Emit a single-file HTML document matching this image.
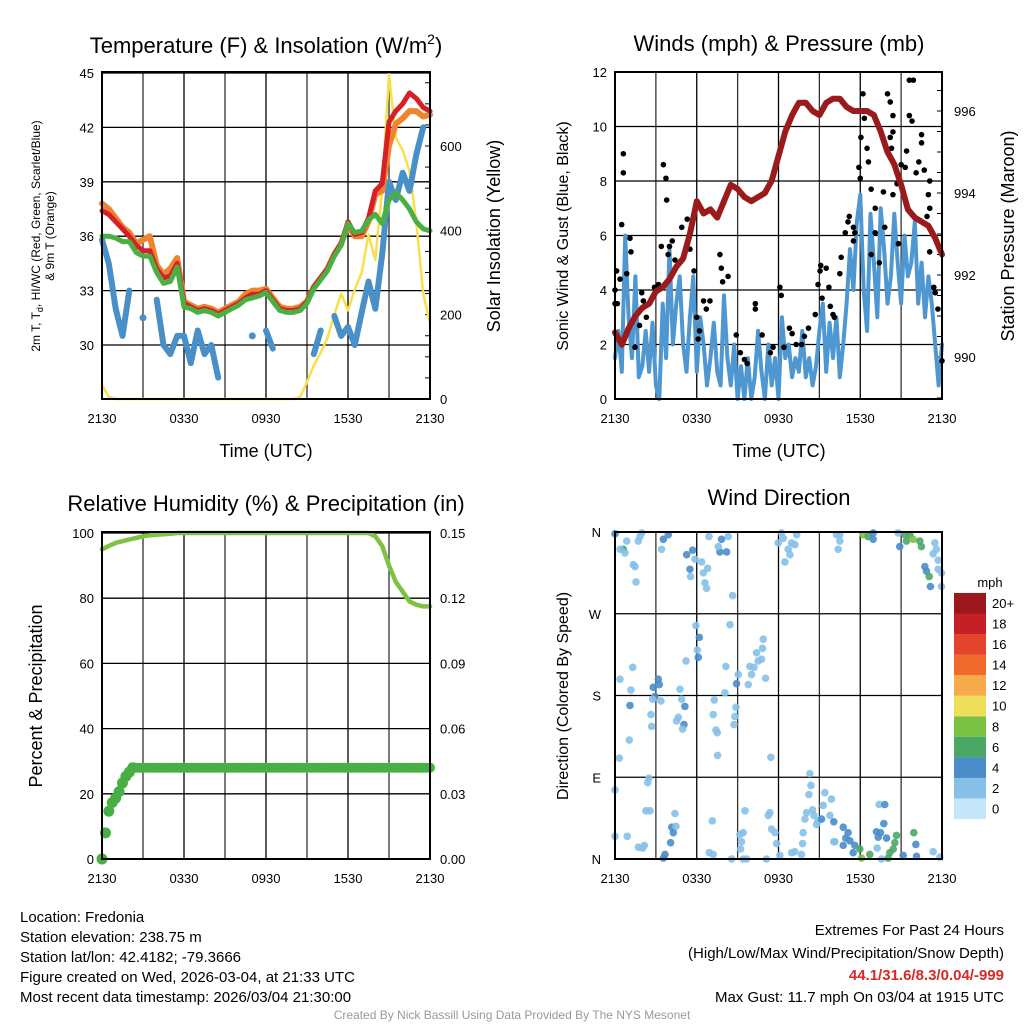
<!DOCTYPE html>
<html><head><meta charset="utf-8"><style>
body{margin:0;background:#fff}
svg{display:block;font-family:"Liberation Sans",sans-serif}
</style></head><body>
<svg id="c" width="1024" height="1024" viewBox="0 0 1024 1024">
<g font-size="22" text-anchor="middle" fill="#000">
<text x="266" y="53">Temperature (F) &amp; Insolation (W/m<tspan font-size="14" dy="-9">2</tspan><tspan dy="9">)</tspan></text>
<text x="779" y="51">Winds (mph) &amp; Pressure (mb)</text>
<text x="266" y="511">Relative Humidity (%) &amp; Precipitation (in)</text>
<text x="779" y="505">Wind Direction</text>
</g>
<g font-size="18" text-anchor="middle">
<text x="266" y="457">Time (UTC)</text>
<text x="779" y="457">Time (UTC)</text>
<text transform="translate(500,236) rotate(-90)">Solar Insolation (Yellow)</text>
<text transform="translate(568,236) rotate(-90)" font-size="16">Sonic Wind &amp; Gust (Blue, Black)</text>
<text transform="translate(1014,236) rotate(-90)">Station Pressure (Maroon)</text>
<text transform="translate(42,696) rotate(-90)">Percent &amp; Precipitation</text>
<text transform="translate(568,696) rotate(-90)" font-size="16">Direction (Colored By Speed)</text>
</g>
<g font-size="12" text-anchor="middle">
<text transform="translate(40,236) rotate(-90)">2m T, T<tspan font-size="9" dy="3">d</tspan><tspan dy="-3">, HI/WC (Red, Green, Scarlet/Blue)</tspan></text>
<text transform="translate(54,236) rotate(-90)">&amp; 9m T (Orange)</text>
</g>
<g font-size="15" fill="#000">
<text x="20" y="922">Location: Fredonia</text>
<text x="20" y="942">Station elevation: 238.75 m</text>
<text x="20" y="962">Station lat/lon: 42.4182; -79.3666</text>
<text x="20" y="982">Figure created on Wed, 2026-03-04, at 21:33 UTC</text>
<text x="20" y="1002">Most recent data timestamp: 2026/03/04 21:30:00</text>
<g text-anchor="end">
<text x="1004" y="935">Extremes For Past 24 Hours</text>
<text x="1004" y="958">(High/Low/Max Wind/Precipitation/Snow Depth)</text>
<text x="1004" y="980" fill="#d42a2a" font-weight="bold">44.1/31.6/8.3/0.04/-999</text>
<text x="1004" y="1002">Max Gust: 11.7 mph On 03/04 at 1915 UTC</text>
</g>
</g>
<text x="512" y="1019" font-size="12" fill="#999" text-anchor="middle">Created By Nick Bassill Using Data Provided By The NYS Mesonet</text>
</svg>
<script>
// ---- data ----
const timeLabels = ["2130","0330","0930","1530","2130"];
const tempRed = [37.4,37.2,36.8,36.4,36.0,35.5,35.2,35.2,34.2,33.7,33.8,34.5,32.3,32.1,31.9,32.0,31.9,31.7,31.9,32.1,32.3,32.6,32.8,32.8,33.0,32.5,32.0,31.9,31.9,32.0,32.4,33.2,33.7,34.2,35.0,35.6,36.8,36.1,36.2,37.0,38.5,38.9,42.3,42.9,43.3,43.9,43.6,43.1,42.9];
const temp9m = [37.8,37.5,37.0,36.5,36.2,35.6,35.8,36.0,34.4,33.9,34.2,34.8,32.4,32.2,32.0,32.1,32.0,31.8,32.0,32.2,32.4,32.8,33.0,33.0,33.1,32.6,32.1,32.0,32.0,32.1,32.4,33.2,33.7,34.2,35.0,35.6,36.6,36.0,36.0,36.8,38.3,38.5,41.0,42.2,42.5,42.9,42.9,42.6,42.7];
const windChill = [36.0,36.0,35.9,35.7,35.7,35.1,34.9,34.9,34.0,33.4,33.5,34.3,32.1,32.0,31.8,31.9,31.8,31.6,31.8,32.0,32.2,32.5,32.6,32.7,32.9,32.4,31.9,31.8,31.8,31.9,32.3,33.1,33.6,34.1,34.9,35.5,36.7,36.2,36.3,36.9,37.2,36.7,38.0,38.4,38.0,37.5,36.8,36.4,36.3];
const dewPoint = [35.8,34.5,32.0,30.5,33.0,null,31.5,null,32.5,30.0,29.5,30.5,30.5,29.0,30.8,29.5,30.0,28.2,null,null,null,null,30.5,null,30.8,29.8,null,null,null,null,null,29.5,30.8,null,31.6,30.5,31.0,30.0,31.8,33.5,32.0,35.0,39.0,38.0,39.5,38.5,40.5,42.0,null];
const solar = [33,5,0,0,0,0,0,0,0,0,0,0,0,0,0,0,0,0,0,0,0,0,0,0,0,0,0,0,0,5,40,80,110,145,200,250,210,260,300,390,330,500,770,620,590,540,420,250,180];
const windSpeed = [1.5,2.5,1.0,6.0,3.0,1.5,4.5,0.8,1.2,2.5,1.0,2.8,0.5,0.0,3.5,1.5,5.5,2.0,3.5,4.5,2.0,1.0,3.0,4.5,1.0,3.0,2.0,0.5,1.5,2.8,1.0,0.5,3.8,1.5,0.5,2.0,0.0,1.2,0.0,1.5,0.0,0.8,2.5,1.0,0.0,2.0,0.5,1.5,0.0,3.0,1.5,2.0,0.8,1.5,1.0,2.5,0.8,1.5,0.5,1.2,2.5,3.5,1.0,2.8,1.5,3.0,0.8,2.0,3.5,5.5,4.0,6.5,7.5,4.0,2.5,6.8,5.0,3.0,7.0,5.5,3.5,4.5,6.8,5.0,3.5,6.0,4.5,5.0,6.5,3.5,5.0,3.0,4.5,3.5,2.0,0.5,2.0];
const gustHours = [0.61,0.61,0.49,1.1,1.17,0.12,0,0,0.17,0.37,0.86,1.96,2.08,2.3,1.8,1.47,2.9,3.2,3.4,3.55,3.74,3.79,3.9,4.0,4.2,4.4,4.9,5.3,5.5,5.8,6.0,6.2,6.5,6.7,6.97,6.1,7.7,7.8,7.9,8.3,8.9,9.2,9.5,9.7,10.3,10.3,10.8,11.6,11.4,12.1,12.2,12.4,12.8,13.0,13.3,13.7,13.9,14.2,14.7,14.9,15.1,15.05,15.2,15.5,15.7,15.8,16.0,16.1,16.5,16.6,16.9,17.1,17.2,17.5,17.6,17.5,17.9,18.0,18.05,18.2,18.3,18.5,18.6,18.8,19.1,18.8,19.1,19.4,19.7,19.8,20.0,20.2,20.4,20.4,20.2,20.3,20.4,20.7,20.8,21.0,21.3,21.4,21.6,21.9,21.6,21.8,22.1,22.3,22.5,22.5,22.7,23.0,23.1,23.1,22.9,23.1,23.4,23.5,23.7,24.0];
const gustSpeeds = [9.0,8.3,6.4,5.9,5.4,4.7,4.0,3.5,3.5,4.4,4.6,3.9,3.6,3.0,2.7,1.9,4.1,4.2,5.6,8.6,8.1,7.3,5.3,5.6,5.8,5.1,6.3,6.6,5.5,4.7,3.0,2.5,3.6,3.3,3.6,2.2,5.3,4.8,4.3,4.5,2.35,1.7,1.45,1.3,3.5,3.3,2.35,1.9,1.7,4.1,3.8,1.9,2.6,2.4,2.0,2.0,2.3,2.6,3.1,4.2,4.9,4.7,3.7,4.8,4.1,3.4,3.1,3.0,4.6,5.2,6.1,6.5,6.7,6.3,6.1,5.8,8.5,8.1,9.6,11.2,10.3,9.2,8.7,7.7,7.0,5.3,6.1,5.0,7.6,6.3,11.2,10.9,10.4,9.8,9.6,9.2,7.5,7.9,5.7,8.6,8.5,9.1,11.7,11.7,10.4,10.2,8.3,8.7,9.4,9.7,8.4,7.5,8.0,7.0,6.7,5.4,4.1,3.9,3.3,1.4];
const pressure = [990.6,990.3,990.7,991.0,991.2,991.3,991.6,991.7,991.9,992.2,992.4,993.0,993.8,993.5,993.6,993.4,993.8,994.2,994.1,993.9,993.8,993.9,994.0,994.3,994.9,995.5,995.9,996.2,996.2,996.0,995.9,996.2,996.3,996.3,996.1,996.0,996.0,996.0,995.9,995.5,995.0,994.7,994.2,993.6,993.4,993.3,993.2,992.9,992.5];
const humidity = [95,96,97,97.5,98,98.5,99,99.3,99.5,99.6,99.8,100,100,100,100,100,100,100,100,100,100,100,100,100,100,100,100,100,100,100,100,100,100,100,100,100,100,100,100,100,99,96,90,85,82,79,78,77.5,77.5];
const precip = [0,0.012,0.022,0.026,0.028,0.031,0.035,0.038,0.040,0.042,0.042,0.042,0.042,0.042,0.042,0.042,0.042,0.042,0.042,0.042,0.042,0.042,0.042,0.042,0.042,0.042,0.042,0.042,0.042,0.042,0.042,0.042,0.042,0.042,0.042,0.042,0.042,0.042,0.042,0.042,0.042,0.042,0.042,0.042,0.042,0.042,0.042,0.042,0.042,0.042,0.042,0.042,0.042,0.042,0.042,0.042,0.042,0.042,0.042,0.042,0.042,0.042,0.042,0.042,0.042,0.042,0.042,0.042,0.042,0.042,0.042,0.042,0.042,0.042,0.042,0.042,0.042,0.042,0.042,0.042,0.042,0.042,0.042,0.042,0.042,0.042,0.042,0.042,0.042,0.042,0.042,0.042,0.042,0.042,0.042,0.042,0.042];
const dirObs = [[0,358,3.5],[0.86,350,2],[0.61,341,6],[0.37,341,2],[0.73,337,2],[1.83,355,2],[1.96,359,2],[1.71,350,2],[1.34,324,1],[1.47,322,1],[1.54,305,1],[3.55,352,3.5],[3.91,357,3.5],[3.42,341,2],[5.26,335,3.5],[5.7,340,3.5],[5.5,319,3.5],[5.87,330,2],[6.36,327,2],[6.48,315,2],[6.8,320,2],[5.55,311,2],[6.6,304,2],[6.72,298,2],[6.9,355,1],[7.82,352,3.5],[8.31,355,2],[7.7,338,3.5],[8.19,338,3.5],[7.58,344,2],[8.63,290,1],[12.22,359,2],[12.35,353,2],[13.33,357,2],[12.96,348,2],[13.2,346,2],[11.98,348,1],[12.71,341,2],[12.84,335,2],[12.47,327,1],[16.5,357,2],[16.26,357,2],[16.5,350,2],[16.38,341,2],[18.22,357,8],[18.58,355,6],[18.95,359,3.5],[18.95,352,3.5],[20.78,359,2],[21.27,357,6],[21.64,357,6],[21.39,350,6],[21.88,352,8],[22.37,350,6],[22.49,344,6],[20.9,344,3.5],[23.47,348,2],[23.59,341,2],[23.35,336,2],[23.72,329,2],[22.74,322,3.5],[22.86,317,3.5],[23.06,311,6],[23.15,300,3.5],[23.72,319,2],[23.96,315,2],[23.96,300,1],
[5.94,257,1],[8.44,258,1],[6.19,244,3.5],[6.04,230,2],[6.11,222,3.5],[5.21,218,1],[1.3,211,1],[0.37,198,1],[3.18,198,3.5],[3.25,192,3.5],[2.81,189,3.5],[2.93,179,3.5],[2.76,176,1],[3.37,174,1],[1.17,186,2],[1.1,169,3.5],[4.77,187,2],[4.89,176,2],[5.13,168,3.5],[4.65,156,1],[4.52,152,1],[5.06,148,3.5],[4.96,143,2],[2.64,159,1],[2.69,146,1],[1.05,131,1],[0.32,111,1],[7.29,175,2],[7.21,159,1],[7.41,142,1],[7.51,139,1],[7.53,114,1],[8.07,183,1],[8.14,212,1],[9.05,203,1],[8.92,193,3.5],[8.88,167,2],[8.8,157,1],[8.73,148,1],[9.78,192,1],[9.9,212,1],[10.02,203,1],[10.39,227,2],[10.51,218,2],[10.76,220,2],[10.88,242,1],[10.83,232,1],[10.2,211,2],[11.05,199,1],[11.44,112,1],
[14.3,94,1],[14.38,81,1],[14.23,71,2],[15.4,73,2],[15.89,66,2],[15.28,59,2],[15.77,48,2],[14.5,54,1],[14.06,51,2],[13.94,44,1],[14.6,48,2],[14.91,42,2],[15.16,44,3.5],[14.79,38,2],[16.06,41,3.5],[16.75,35,3.5],[17.11,29,3.5],[16.94,23,3.5],[17.24,20,3.5],[17.6,15,3.5],[17.48,7,3.5],[17.97,11,6],[18.09,1,8],[18.7,5,6],[16.75,15,3.5],[16.14,19,2],[19.39,60,2],[19.8,60,3.5],[19.73,39,3.5],[19.19,30,3.5],[19.49,29,3.5],[19.32,24,3.5],[19.93,23,3.5],[20.66,26,6],[20.54,18,6],[20.42,11,6],[20.17,7,6],[20.05,1,6],[21.93,29,6],[22.08,16,3.5],[21.15,4,3.5],[22.13,3,3.5],[19.56,0,2],[19.24,12,2],[16.06,19,1],[23.35,8,2],[23.84,2,2],[0,76,2],[2.4,84,2],[2.49,89,1],[2.27,53,2],[2.57,53,1],[4.4,50,2],[4.16,35,3.5],[4.28,29,3.5],[4.47,36,1],[4.08,18,3.5],[3.67,5,3.5],[3.55,1,3.5],[0.9,25,1],[0,25,2],[1.71,13,1],[2.15,15,2],[2.03,12,2],[7.14,42,1],[6.92,7,2],[7.21,5,2],[8.56,0,1],[9.41,0,1],[9.66,0,1],[9.54,53,1],[9.41,29,1],[9.17,27,1],[9.29,19,1],[9.22,11,1],[11.12,0,1],[11.25,48,1],[11.37,51,1],[11.49,33,1],[11.74,29,1],[11.86,17,1],[12.1,4,2],[12.96,7,2],[13.2,8,2],[13.69,5,2],[13.77,17,2],[13.81,29,1]];
const speedBins = ["0","2","4","6","8","10","12","14","16","18","20+"];
const speedColors = ["#c4e6f8","#86c0e9","#4a8dc9","#4aa866","#7cc242","#eee05a","#f6ab4a","#f0692d","#e3442b","#c71f26","#9b181c"];

// ---- drawing ----
const NS="http://www.w3.org/2000/svg", svg=document.getElementById('c');
function mk(tag,attrs,parent){const e=document.createElementNS(NS,tag);for(const k in attrs)e.setAttribute(k,attrs[k]);(parent||svg).appendChild(e);return e;}
function lin(d0,d1,r0,r1){return v=>r0+(v-d0)/(d1-d0)*(r1-r0);}
function panel(name,L,R,T,B){
  const g=mk('g',{});
  
  
  return g;
}
function grid(g,L,R,T,B,hys){
  for(let i=0;i<=8;i++){const x=L+(R-L)*i/8;const l=mk('line',{x1:x,x2:x,y1:T,y2:B,stroke:i%2?'#333':'#000','stroke-width':1.3},g);
    
    }
  hys.forEach(y=>{const l=mk('line',{x1:L,x2:R,y1:y,y2:y,stroke:'#000','stroke-width':1.3},g);
    
    });
}
function frame(g,L,R,T,B){const r=mk('rect',{x:L,y:T,width:R-L,height:B-T,fill:'none',stroke:'#000','stroke-width':2},g);
  
  }
function xlabels(g,L,R,y){timeLabels.forEach((t,i)=>{const e=mk('text',{x:L+(R-L)*i/4,y:y,'font-size':13,'text-anchor':'middle'},g);e.textContent=t;
  
  });}
function ylabel(g,x,y,t,anchor){const e=mk('text',{x:x,y:y+5,'font-size':13,'text-anchor':anchor},g);e.textContent=t;
  
  }
function path(g,pts,stroke,w,name){let d='';let pen=false;pts.forEach(p=>{if(p==null){pen=false;return;}d+=(pen?'L':'M')+p[0].toFixed(1)+' '+p[1].toFixed(1);pen=true;});
  const e=mk('path',{d:d,fill:'none',stroke:stroke,'stroke-width':w,'stroke-linejoin':'round','stroke-linecap':'round'},g);
  
  return e;}

// Panel 1
(function(){const L=102,R=430,T=72,B=399;const g=panel('temperature-panel');
  const yT=lin(30,45,345,73), yS=lin(0,600,399,146);
  const xi=n=>i=>L+(R-L)*i/(n-1);
  grid(g,L,R,T,B,[30,33,36,39,42,45].map(yT));
  [30,33,36,39,42,45].forEach(v=>ylabel(g,L-8,yT(v),v,'end'));
  [0,200,400,600].forEach(v=>ylabel(g,R+10,yS(v),v,'start'));
  for(let v=0;v<=750;v+=50){const l=mk('line',{x1:R,x2:R-5,y1:yS(v),y2:yS(v),stroke:'#000'},g);
    
    }
  xlabels(g,L,R,423);
  const x=xi(49);
  path(g,solar.map((v,i)=>[x(i),yS(v)]),'#f7e04a',2.5,'solar-line');
  path(g,dewPoint.map((v,i)=>v==null?null:[x(i),yT(v)]),'#4a90c8',6,'dewpoint-line');
  dewPoint.forEach((v,i)=>{if(v!=null&&(i==0||dewPoint[i-1]==null)&&(i==48||dewPoint[i+1]==null)){const c=mk('circle',{cx:x(i),cy:yT(v),r:3.5,fill:'#4a90c8'},g);
    
    }});
  path(g,temp9m.map((v,i)=>[x(i),yT(v)]),'#f0832e',6,'temp-9m-line');
  path(g,tempRed.map((v,i)=>[x(i),yT(v)]),'#d62027',5,'temp-2m-line');
  path(g,windChill.map((v,i)=>[x(i),yT(v)]),'#4bb043',5,'wind-chill-line');
  frame(g,L,R,T,B);
})();

// Panel 2
(function(){const L=615,R=942,T=72,B=399;const g=panel('wind-panel');
  const yW=lin(0,12,399,72), yP=lin(990,996,357,111);
  grid(g,L,R,T,B,[0,2,4,6,8,10,12].map(yW));
  [0,2,4,6,8,10,12].forEach(v=>ylabel(g,L-8,yW(v),v,'end'));
  [990,992,994,996].forEach(v=>ylabel(g,R+12,yP(v),v,'start'));
  for(let v=989;v<=997;v+=0.5){const yy=yP(v);if(yy<T||yy>B)continue;const l=mk('line',{x1:R,x2:R-5,y1:yy,y2:yy,stroke:'#000'},g);
    
    }
  xlabels(g,L,R,423);
  const xh=lin(0,24,L,R);
  path(g,windSpeed.map((v,i)=>[xh(24*i/(windSpeed.length-1)),yW(v)]),'#4f97d1',4,'wind-speed-line');
  gustHours.forEach((h,i)=>{const c=mk('circle',{cx:xh(h),cy:yW(gustSpeeds[i]),r:2.8,fill:'#000'},g);
    
    });
  path(g,pressure.map((v,i)=>[xh(24*i/(pressure.length-1)),yP(v)]),'#9b1a1c',6,'pressure-line');
  frame(g,L,R,T,B);
})();

// Panel 3
(function(){const L=102,R=430,T=532,B=859;const g=panel('humidity-panel');
  const yH=lin(0,100,859,533), yR=lin(0,0.15,859,533);
  grid(g,L,R,T,B,[0,20,40,60,80,100].map(yH));
  [0,20,40,60,80,100].forEach(v=>ylabel(g,L-8,yH(v),v,'end'));
  [0,0.03,0.06,0.09,0.12,0.15].forEach(v=>ylabel(g,R+10,yR(v),v.toFixed(2),'start'));
  xlabels(g,L,R,883);
  const xh=lin(0,24,L,R);
  path(g,humidity.map((v,i)=>[xh(24*i/(humidity.length-1)),yH(v)]),'#7dc242',4.5,'humidity-line');
  precip.forEach((v,i)=>{const c=mk('circle',{cx:xh(24*i/(precip.length-1)),cy:yR(v),r:i<10?5.5:5,fill:'#46b044'},g);
    
    });
  frame(g,L,R,T,B);
})();

// Panel 4
(function(){const L=615,R=942,T=532,B=859;const g=panel('direction-panel');
  const yD=lin(0,360,859,532), xh=lin(0,24,L,R);
  grid(g,L,R,T,B,[0,90,180,270,360].map(yD));
  ["N","E","S","W","N"].forEach((t,i)=>ylabel(g,L-14,yD(i*90),t,'end'));
  xlabels(g,L,R,883);
  const colorFor=s=>speedColors[Math.min(10,Math.floor((s+1)/2))];
  dirObs.forEach(o=>{const c=mk('circle',{cx:xh(o[0]),cy:yD(o[1]),r:3.8,fill:colorFor(o[2]),'fill-opacity':0.9},g);
    
    });
  frame(g,L,R,T,B);
  // colorbar
  const cb=mk('g',{});
  
  
  const t=mk('text',{x:990,y:587,'font-size':13,'text-anchor':'middle'},cb);t.textContent='mph';
  
  
  speedBins.forEach((lab,i)=>{const y0=819-(i+1)*20.55;
    const r=mk('rect',{x:954,y:y0,width:32,height:20.6,fill:speedColors[i]},cb);
    
    
    const e=mk('text',{x:992,y:y0+15,'font-size':13},cb);e.textContent=lab;
    
    });
})();
</script>
</body></html>
